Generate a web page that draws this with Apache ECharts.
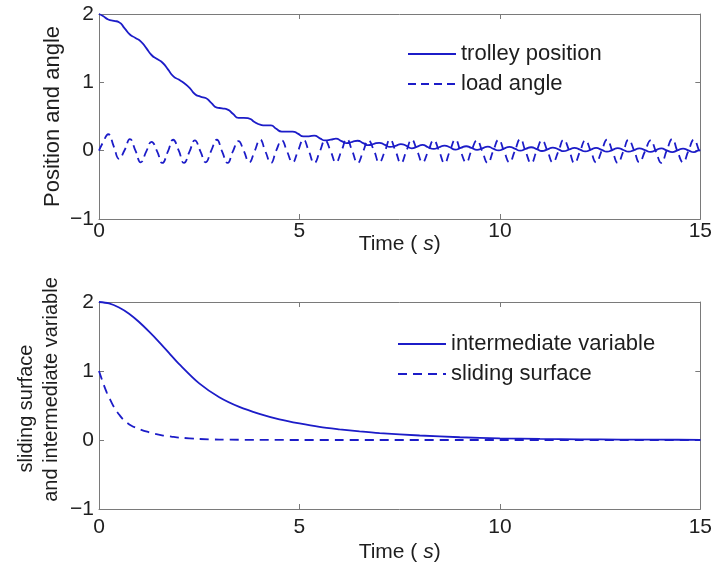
<!DOCTYPE html>
<html>
<head>
<meta charset="utf-8">
<script src="https://cdn.jsdelivr.net/npm/echarts@6/dist/echarts.min.js"></script>
<style>
html,body{margin:0;padding:0;background:#fff;}
#chart{width:715px;height:567px;}
</style>
</head>
<body>
<div id="chart"></div>
<script>
// ---- Top plot data (time in s) ----
var topTime = [0,
  0.10, 0.23, 0.37, 0.50, 0.64, 0.77, 0.91, 1.04, 1.18, 1.31, 1.45, 1.58, 1.72, 1.85, 1.99, 2.12,
  2.26, 2.39, 2.53, 2.66, 2.80, 2.94, 3.07, 3.21, 3.34, 3.48, 3.61, 3.75, 3.88, 4.02, 4.15, 4.29,
  4.42, 4.56, 4.69, 4.83, 4.96, 5.10, 5.23, 5.37, 5.51, 5.64, 5.78, 5.91, 6.05, 6.18, 6.32, 6.45,
  6.59, 6.72, 6.86, 6.99, 7.13, 7.26, 7.40, 7.53, 7.67, 7.80, 7.94, 8.07, 8.21, 8.35, 8.48, 8.62,
  8.75, 8.89, 9.02, 9.16, 9.29, 9.43, 9.56, 9.70, 9.83, 9.97, 10.10, 10.24, 10.37, 10.51, 10.64, 10.78,
  10.92, 11.05, 11.19, 11.32, 11.46, 11.59, 11.73, 11.86, 12.00, 12.13, 12.27, 12.40, 12.54, 12.67, 12.81, 12.94,
  13.08, 13.21, 13.35, 13.48, 13.62, 13.76, 13.89, 14.03, 14.16, 14.30, 14.43, 14.57, 14.70, 14.84, 14.97,
  15.00];

var trolleyPosition = [2.00,
  1.97, 1.92, 1.90, 1.88, 1.79, 1.70, 1.65, 1.60, 1.50, 1.40, 1.34, 1.29, 1.19, 1.09, 1.04, 0.99,
  0.92, 0.83, 0.79, 0.77, 0.70, 0.63, 0.62, 0.60, 0.54, 0.48, 0.48, 0.47, 0.42, 0.38, 0.37, 0.37,
  0.32, 0.28, 0.28, 0.28, 0.25, 0.21, 0.21, 0.22, 0.18, 0.15, 0.16, 0.175, 0.14, 0.11, 0.13, 0.145,
  0.11, 0.08, 0.10, 0.115, 0.085, 0.055, 0.07, 0.095, 0.07, 0.035, 0.06, 0.085, 0.05, 0.025, 0.05, 0.075,
  0.05, 0.015, 0.04, 0.065, 0.04, 0.012, 0.035, 0.06, 0.03, 0.005, 0.03, 0.055, 0.03, 0.0, 0.025, 0.05,
  0.023, -0.005, 0.02, 0.045, 0.02, -0.007, 0.017, 0.042, 0.015, -0.01, 0.014, 0.04, 0.012, -0.013, 0.011, 0.037,
  0.01, -0.015, 0.009, 0.035, 0.008, -0.017, 0.007, 0.033, 0.005, -0.02, 0.005, 0.03, 0.004, -0.022, 0.003,
  0.00];

var loadAngle = [0.00,
  0.12, 0.24, 0.06, -0.12, 0.01, 0.17, 0.00, -0.17, -0.01, 0.13, -0.01, -0.18, -0.01, 0.16, 0.00, -0.18,
  -0.01, 0.15, -0.01, -0.17, 0.00, 0.16, -0.01, -0.18, -0.01, 0.14, 0.00, -0.17, -0.01, 0.16, -0.01, -0.18,
  0.00, 0.15, -0.01, -0.17, -0.01, 0.16, 0.00, -0.18, -0.01, 0.15, -0.01, -0.17, 0.00, 0.17, -0.01, -0.18,
  -0.01, 0.15, 0.00, -0.17, -0.01, 0.16, -0.01, -0.18, 0.00, 0.16, -0.01, -0.17, -0.01, 0.15, 0.00, -0.18,
  -0.01, 0.16, -0.01, -0.17, 0.00, 0.15, -0.01, -0.18, -0.01, 0.16, 0.00, -0.17, -0.01, 0.17, -0.01, -0.18,
  0.00, 0.15, -0.01, -0.17, -0.01, 0.16, 0.00, -0.18, -0.01, 0.15, -0.01, -0.17, 0.00, 0.16, -0.01, -0.18,
  -0.01, 0.16, 0.00, -0.17, -0.01, 0.15, -0.01, -0.18, 0.00, 0.17, -0.01, -0.17, -0.01, 0.16, 0.00,
  -0.04];

// ---- Bottom plot data ----
var interTime = [0, 0.25, 0.5, 0.75, 1.0, 1.25, 1.5, 1.75, 2.0, 2.5, 3.0, 3.5, 4.0, 4.5, 5.0, 5.5, 6.0, 6.5, 7.0, 8.0, 9.0, 10, 11, 12, 13, 14, 15];
var intermediateVariable = [2.00, 1.98, 1.92, 1.83, 1.71, 1.57, 1.42, 1.26, 1.10, 0.82, 0.62, 0.48, 0.38, 0.30, 0.24, 0.19, 0.155, 0.125, 0.10, 0.065, 0.04, 0.025, 0.015, 0.01, 0.006, 0.004, 0.003];

var slideTime = [0, 0.1, 0.2, 0.3, 0.4, 0.5, 0.6, 0.8, 1.0, 1.2, 1.4, 1.6, 1.8, 2.0, 2.5, 3.0, 4.0, 5, 6, 7, 8, 9, 10, 11, 12, 13, 14, 15];
var slidingSurface = [1.00, 0.83, 0.68, 0.56, 0.45, 0.37, 0.30, 0.21, 0.16, 0.12, 0.09, 0.065, 0.05, 0.035, 0.015, 0.006, 0.002, 0, 0, 0, 0, 0, 0, 0, 0, 0, 0, 0];

// ---- Axis ticks ----
var xTicks = {min: 0, max: 15, interval: 5};
var yTicks = {min: -1, max: 2, interval: 1};
var seriesNames = ['trolley position', 'load angle', 'intermediate variable', 'sliding surface'];

function pairs(ts, vs) { return ts.map(function (t, i) { return [t, vs[i]]; }); }

var FONT = '"Liberation Sans", Arial, sans-serif';
var FS = 22;
var TXT = '#1e1e1e';
var AX = '#7a7a7a';
var BLUE = '#1c1cc8';

function xAx(grid, primary, gapLabel, nameGap) {
  return {
    type: 'value', gridIndex: grid, position: primary ? 'bottom' : 'top',
    min: xTicks.min, max: xTicks.max, interval: xTicks.interval,
    axisLine: {show: true, onZero: false, lineStyle: {color: AX, width: 1}},
    axisTick: {show: true, inside: true, length: 5, lineStyle: {color: AX}},
    axisLabel: {show: primary, margin: gapLabel, color: TXT, fontSize: FS - 1, fontFamily: FONT},
    splitLine: {show: false},
    name: primary ? 'Time ( {i|s})' : '',
    nameLocation: 'middle', nameGap: nameGap, nameMoveOverlap: false,
    nameTextStyle: {color: TXT, fontSize: FS - 1, fontFamily: FONT,
      rich: {i: {fontStyle: 'italic', fontSize: FS - 1, fontFamily: FONT, color: TXT}}}
  };
}
function yAx(grid, primary, name, nameStyle, nameGap) {
  return {
    type: 'value', gridIndex: grid, position: primary ? 'left' : 'right',
    min: yTicks.min, max: yTicks.max, interval: yTicks.interval,
    axisLine: {show: true, onZero: false, lineStyle: {color: AX, width: 1}},
    axisTick: {show: true, inside: true, length: 5, lineStyle: {color: AX}},
    axisLabel: {show: primary, margin: 5, color: TXT, fontSize: FS - 1, fontFamily: FONT,
      formatter: function (v) { return v < 0 ? '\u2212' + (-v) : String(v); }},
    splitLine: {show: false},
    name: primary ? name : '',
    nameLocation: 'middle', nameGap: nameGap || 35, nameRotate: 90, nameMoveOverlap: false,
    nameTextStyle: nameStyle || {color: TXT, fontSize: FS, fontFamily: FONT}
  };
}

var bottomNameStyle = {
  color: TXT, fontSize: 20, fontFamily: FONT, lineHeight: 25,
  rich: {
    a: {fontSize: 20, fontFamily: FONT, color: TXT, lineHeight: 25, padding: [0, 6, 0, 0]},
    b: {fontSize: 20, fontFamily: FONT, color: TXT, lineHeight: 25, padding: [0, 0, 0, 32]}
  }
};

var legendCommon = {
  orient: 'vertical', padding: 0, itemWidth: 48, itemHeight: 22, itemGap: 8,
  itemStyle: {opacity: 0}, textStyle: {color: TXT, fontSize: FS, fontFamily: FONT}
};

var chart = echarts.init(document.getElementById('chart'), null, {renderer: 'canvas'});
chart.setOption({
  backgroundColor: '#ffffff',
  animation: false,
  grid: [
    {left: 99, right: 12, top: 14, height: 205},
    {left: 99, right: 12, top: 302, height: 207}
  ],
  xAxis: [xAx(0, true, 2, 15), xAx(0, false, 2, 0), xAx(1, true, 8, 33), xAx(1, false, 2, 0)],
  yAxis: [yAx(0, true, 'Position and angle'), yAx(0, false, ''),
          yAx(1, true, '{a|sliding surface}\n{b|and intermediate variable}', bottomNameStyle, 35), yAx(1, false, '')],
  legend: [
    Object.assign({data: [seriesNames[0], seriesNames[1]], left: 407, top: 43}, legendCommon),
    Object.assign({data: [seriesNames[2], seriesNames[3]], left: 397, top: 333}, legendCommon)
  ],
  series: [
    {name: seriesNames[0], type: 'line', xAxisIndex: 0, yAxisIndex: 0, data: pairs(topTime, trolleyPosition),
     showSymbol: false, symbol: 'none', smooth: 0.6, lineStyle: {color: BLUE, width: 1.8}, itemStyle: {color: BLUE}},
    {name: seriesNames[1], type: 'line', xAxisIndex: 0, yAxisIndex: 0, data: pairs(topTime, loadAngle),
     showSymbol: false, symbol: 'none', smooth: 0.5, lineStyle: {color: BLUE, width: 1.8, type: [8, 5]}, itemStyle: {color: BLUE}},
    {name: seriesNames[2], type: 'line', xAxisIndex: 2, yAxisIndex: 2, data: pairs(interTime, intermediateVariable),
     showSymbol: false, symbol: 'none', smooth: 0.3, lineStyle: {color: BLUE, width: 1.8}, itemStyle: {color: BLUE}},
    {name: seriesNames[3], type: 'line', xAxisIndex: 2, yAxisIndex: 2, data: pairs(slideTime, slidingSurface),
     showSymbol: false, symbol: 'none', smooth: 0.3, lineStyle: {color: BLUE, width: 1.8, type: [9, 6]}, itemStyle: {color: BLUE}}
  ]
});
</script>
</body>
</html>
